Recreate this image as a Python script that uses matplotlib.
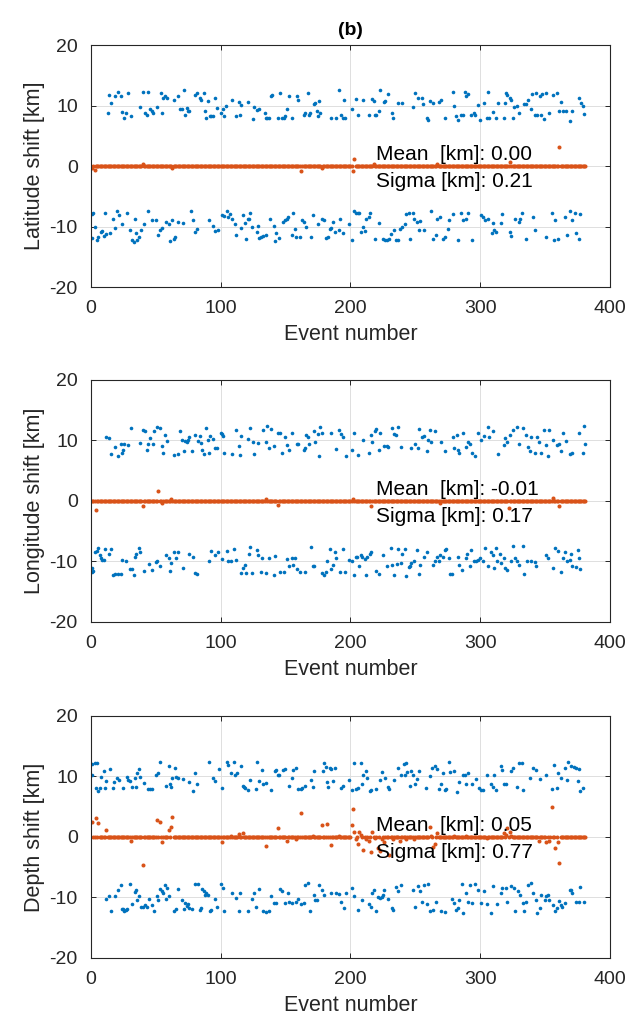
import numpy as np
import matplotlib.pyplot as plt

plt.rcParams['font.family'] = ['Liberation Sans', 'DejaVu Sans']
plt.rcParams['axes.unicode_minus'] = False

n_events = 381
blue = "#0072BD"
orange = "#D95319"

# initial (perturbed) shifts, (event, km)
lat_start = [
    (13, 8.8), (14, 11.7), (16, 10.4), (19, 11.6), (21, 12.3), (23, 11.6), (24, 8.9), (26, 7.9), (27, 8.7),
    (29, 12.0), (31, 8.2), (38, 9.7), (40, 12.2), (42, 8.7), (43, 8.4), (44, 12.2), (46, 9.5), (47, 9.1),
    (48, 8.8), (51, 9.8), (54, 12.0), (55, 8.8), (56, 11.2), (57, 11.5), (59, 11.2), (64, 10.9), (67, 11.6),
    (69, 9.5), (70, 9.5), (72, 12.5), (73, 8.5), (74, 9.6), (75, 9.1), (76, 9.1), (80, 11.7), (82, 12.0),
    (84, 11.2), (85, 10.9), (87, 12.1), (88, 9.1), (89, 8.0), (90, 10.7), (92, 8.2), (93, 8.2), (94, 8.3),
    (96, 11.3), (97, 9.6), (100, 8.7), (102, 9.5), (103, 8.2), (104, 9.9), (109, 10.9), (112, 8.2), (114, 10.6),
    (115, 8.4), (116, 10.1), (121, 10.6), (125, 7.7), (126, 9.8), (128, 9.3), (130, 9.5), (134, 8.7), (135, 7.9),
    (136, 7.9), (137, 7.9), (139, 11.5), (140, 11.7), (144, 7.9), (146, 12.0), (147, 8.0), (149, 8.0), (150, 8.2),
    (151, 9.4), (153, 11.5), (155, 8.0), (159, 11.5), (160, 10.9), (164, 8.4), (165, 8.7), (167, 12.1), (168, 8.4),
    (169, 8.8), (172, 10.2), (173, 10.5), (174, 9.1), (175, 8.2), (176, 10.8), (177, 8.8), (185, 7.9), (189, 7.9),
    (191, 12.6), (193, 8.4), (194, 7.9), (195, 10.9), (196, 8.0), (201, 9.5), (204, 11.0), (206, 8.4), (210, 10.9),
    (214, 8.5), (217, 11.0), (218, 10.8), (219, 8.4), (220, 8.5), (222, 9.1), (223, 12.6), (226, 10.6), (227, 10.8),
    (229, 11.9), (232, 8.7), (233, 8.0), (237, 10.4), (240, 10.4), (248, 9.7), (250, 12.1), (252, 11.2), (255, 11.2),
    (256, 10.2), (259, 8.0), (260, 7.6), (261, 10.7), (264, 10.5), (268, 10.6), (270, 10.9), (273, 7.9), (279, 12.2),
    (280, 10.0), (281, 8.3), (283, 7.6), (285, 8.4), (287, 8.4), (288, 12.3), (289, 11.6), (291, 11.9), (293, 8.4),
    (295, 8.8), (296, 8.4), (298, 10.1), (300, 7.6), (303, 10.5), (305, 7.9), (306, 12.3), (307, 8.0), (310, 9.0),
    (312, 7.9), (314, 10.5), (318, 7.9), (319, 10.5), (320, 12.1), (321, 11.7), (323, 11.2), (324, 10.9), (325, 7.9),
    (326, 9.8), (328, 9.9), (330, 8.7), (334, 10.2), (335, 10.2), (337, 10.9), (339, 9.5), (340, 11.9), (342, 8.4),
    (343, 12.1), (344, 8.4), (346, 11.6), (347, 8.4), (348, 11.9), (349, 7.7), (351, 12.0), (353, 8.7), (356, 11.7),
    (359, 12.0), (361, 9.1), (362, 10.6), (364, 9.1), (366, 9.1), (369, 7.5), (371, 9.1), (376, 11.2), (378, 10.5),
    (379, 9.9), (380, 8.6),
    (1, -7.9), (1, -11.9), (2, -7.7), (3, -10.0), (5, -12.3), (6, -11.7), (8, -10.9), (9, -10.7), (10, -11.6),
    (11, -7.7), (12, -11.2), (15, -11.0), (17, -8.7), (19, -10.2), (20, -7.5), (22, -8.1), (24, -9.6), (28, -7.7),
    (30, -10.6), (32, -12.2), (33, -12.5), (34, -8.8), (35, -11.0), (36, -12.2), (37, -11.7), (39, -10.6), (41, -9.5),
    (44, -7.5), (47, -8.9), (50, -8.9), (52, -11.4), (53, -10.6), (55, -10.3), (58, -9.3), (60, -9.6), (61, -12.4),
    (63, -8.9), (64, -12.1), (65, -11.8), (67, -9.2), (71, -9.4), (77, -7.5), (79, -9.0), (80, -10.9), (82, -10.4),
    (91, -8.9), (94, -9.9), (96, -10.7), (98, -10.6), (101, -8.1), (103, -8.3), (105, -7.5), (106, -8.5), (107, -7.9),
    (109, -8.8), (111, -9.6), (112, -11.4), (116, -10.2), (117, -8.1), (119, -9.4), (120, -12.1), (121, -8.7),
    (122, -8.8), (123, -7.8), (124, -10.0), (128, -10.9), (129, -9.9), (130, -11.9), (131, -11.8), (133, -11.5),
    (135, -11.4), (138, -8.8), (141, -9.9), (142, -12.4), (143, -11.1), (145, -11.9), (148, -9.2), (150, -8.9),
    (151, -8.7), (152, -8.5), (155, -11.4), (156, -7.7), (157, -10.4), (158, -11.7), (161, -11.8), (163, -8.9),
    (164, -9.3), (166, -10.0), (170, -11.7), (171, -8.1), (175, -9.5), (178, -8.8), (180, -8.9), (181, -11.9),
    (183, -11.7), (184, -10.4), (185, -10.2), (187, -9.3), (188, -10.9), (191, -10.5), (192, -8.8), (194, -11.1),
    (199, -9.6), (201, -12.3), (203, -7.5), (204, -7.8), (206, -7.7), (207, -7.8), (208, -10.9), (210, -10.0),
    (211, -10.7), (212, -8.7), (214, -8.4), (215, -7.8), (219, -12.1), (222, -9.4), (225, -12.0), (227, -12.2),
    (228, -12.3), (230, -12.1), (231, -11.2), (234, -10.6), (235, -12.2), (237, -12.2), (238, -10.4), (240, -10.1),
    (242, -9.6), (243, -7.9), (245, -7.8), (246, -12.1), (248, -7.8), (249, -8.7), (251, -9.2), (253, -10.6),
    (254, -9.1), (257, -10.5), (262, -7.5), (264, -12.1), (266, -11.4), (267, -8.8), (269, -8.5), (271, -12.0),
    (273, -11.8), (275, -10.4), (276, -9.0), (279, -7.9), (283, -12.2), (285, -7.8), (287, -9.0), (289, -8.7),
    (291, -7.8), (294, -12.3), (301, -8.1), (302, -8.5), (304, -8.9), (306, -8.8), (309, -11.1), (310, -9.4),
    (311, -10.5), (312, -10.9), (316, -9.4), (317, -7.9), (323, -10.9), (324, -11.6), (327, -8.7), (330, -9.2),
    (331, -8.7), (332, -7.7), (335, -12.0), (341, -8.5), (342, -10.6), (351, -11.7), (355, -7.7), (357, -12.2),
    (358, -8.9), (360, -12.0), (365, -8.5), (367, -11.4), (369, -7.5), (371, -9.0), (373, -7.7), (374, -11.1),
    (376, -12.0), (377, -8.0),
]

lon_start = [
    (12, 10.5), (14, 10.4), (16, 7.8), (19, 9.0), (21, 7.4), (23, 9.5), (24, 8.0), (25, 8.4), (26, 9.4), (29, 9.3),
    (31, 12.1), (38, 9.6), (40, 11.7), (42, 11.6), (43, 8.5), (44, 9.5), (46, 10.4), (48, 9.5), (49, 11.5),
    (51, 12.2), (53, 12.0), (55, 9.1), (56, 7.9), (57, 10.9), (59, 9.9), (64, 7.6), (67, 7.8), (69, 11.6),
    (70, 10.0), (72, 8.2), (73, 9.9), (74, 9.7), (75, 10.1), (76, 10.5), (78, 8.2), (80, 10.9), (83, 9.9),
    (84, 10.8), (85, 9.6), (86, 8.4), (87, 7.8), (89, 12.1), (90, 10.0), (91, 7.9), (92, 10.8), (94, 10.2),
    (96, 8.7), (97, 8.8), (100, 11.3), (101, 11.1), (102, 10.8), (103, 8.0), (109, 7.8), (112, 11.7), (114, 9.1),
    (115, 7.6), (116, 10.8), (121, 10.2), (123, 12.1), (125, 9.7), (126, 7.7), (129, 9.6), (133, 11.8), (135, 9.7),
    (136, 12.4), (137, 8.8), (139, 11.9), (141, 9.1), (144, 11.2), (146, 11.3), (147, 7.9), (150, 10.6), (151, 9.3),
    (153, 8.4), (155, 11.2), (159, 9.4), (160, 9.5), (164, 8.4), (165, 8.8), (166, 10.9), (167, 10.6), (168, 9.4),
    (172, 11.6), (173, 9.7), (175, 11.1), (176, 7.5), (177, 12.2), (178, 11.2), (185, 11.2), (189, 8.6),
    (191, 11.8), (193, 11.0), (194, 10.6), (197, 7.5), (201, 8.4), (203, 11.3), (206, 7.6), (210, 10.1), (214, 7.9),
    (216, 10.9), (217, 9.7), (219, 11.6), (220, 11.9), (222, 8.4), (223, 11.3), (226, 9.1), (228, 9.1), (229, 9.0),
    (232, 12.1), (234, 11.0), (235, 10.9), (237, 12.3), (239, 9.0), (247, 8.7), (250, 9.5), (252, 8.8), (253, 11.9),
    (255, 10.5), (257, 10.8), (259, 8.3), (260, 10.1), (261, 11.8), (262, 9.8), (265, 11.6), (270, 9.8), (273, 8.2),
    (279, 10.6), (280, 8.7), (282, 10.9), (283, 8.4), (284, 7.9), (287, 11.2), (289, 9.0), (291, 9.7), (292, 9.4),
    (294, 8.0), (296, 7.5), (298, 11.2), (301, 10.1), (303, 10.8), (306, 12.3), (307, 10.5), (310, 11.6), (314, 7.7),
    (318, 9.3), (319, 10.4), (321, 9.8), (323, 10.9), (325, 11.7), (328, 12.3), (330, 9.4), (333, 12.0), (335, 10.9),
    (337, 9.0), (338, 8.3), (339, 10.5), (342, 7.9), (344, 10.6), (345, 9.7), (347, 7.9), (349, 11.7), (351, 9.3),
    (352, 7.5), (353, 11.8), (356, 10.1), (359, 9.3), (361, 9.4), (362, 8.2), (364, 11.2), (366, 9.9), (369, 7.7),
    (371, 7.9), (376, 11.3), (379, 8.0), (380, 12.4), (381, 9.4),
    (1, -11.7), (1, -11.0), (2, -11.6), (3, -8.5), (5, -8.3), (6, -7.8), (7, -8.9), (8, -9.5), (9, -9.7),
    (10, -9.8), (11, -7.9), (14, -8.7), (16, -7.9), (17, -12.3), (19, -12.1), (21, -12.1), (23, -12.1), (24, -9.8),
    (27, -10.0), (30, -11.3), (32, -11.3), (33, -12.3), (34, -9.3), (35, -8.7), (37, -7.8), (38, -8.4), (41, -11.5),
    (45, -10.4), (47, -11.4), (50, -10.1), (51, -10.0), (53, -10.7), (58, -9.0), (60, -9.4), (61, -11.6),
    (62, -10.2), (64, -8.5), (66, -9.4), (67, -8.5), (71, -11.0), (76, -8.8), (79, -9.3), (80, -11.9), (82, -12.1),
    (91, -9.9), (93, -8.2), (96, -8.9), (98, -8.5), (101, -9.6), (105, -8.2), (106, -9.9), (108, -10.0),
    (110, -7.9), (112, -9.7), (116, -11.9), (117, -11.1), (119, -10.5), (120, -11.9), (122, -8.8), (123, -7.6),
    (124, -11.9), (128, -8.1), (129, -8.9), (131, -11.7), (132, -9.4), (135, -11.9), (137, -9.4), (141, -12.2),
    (142, -9.1), (146, -11.8), (149, -11.8), (151, -9.6), (153, -10.7), (155, -9.4), (156, -10.5), (157, -9.4),
    (159, -11.3), (161, -11.8), (165, -11.7), (170, -7.6), (171, -10.7), (172, -10.8), (178, -11.9), (180, -12.3),
    (181, -11.8), (182, -9.9), (184, -7.9), (185, -11.2), (187, -10.5), (188, -8.5), (189, -9.4), (192, -11.8),
    (194, -7.9), (196, -11.8), (199, -9.8), (201, -9.9), (203, -12.2), (204, -9.3), (205, -9.2), (207, -10.7),
    (208, -9.0), (209, -9.2), (211, -9.6), (212, -12.2), (213, -9.2), (215, -8.8), (216, -8.5), (220, -11.5),
    (222, -12.0), (225, -8.9), (228, -10.7), (231, -7.7), (232, -10.5), (234, -12.3), (236, -10.4), (237, -7.9),
    (239, -10.2), (240, -8.8), (242, -7.9), (243, -12.4), (245, -10.9), (246, -10.7), (247, -10.3), (249, -9.9),
    (251, -8.1), (253, -12.0), (254, -10.5), (257, -9.2), (259, -8.5), (264, -10.5), (265, -9.9), (267, -9.2),
    (268, -10.0), (269, -9.0), (271, -9.2), (273, -8.1), (274, -8.0), (276, -9.5), (277, -12.0), (278, -12.1),
    (283, -9.2), (284, -10.6), (286, -11.4), (289, -9.4), (290, -8.7), (292, -10.7), (293, -8.1), (295, -9.9),
    (297, -9.9), (298, -9.8), (300, -9.4), (302, -10.0), (304, -7.7), (306, -10.7), (308, -8.4), (310, -8.9),
    (311, -11.0), (312, -7.8), (313, -9.9), (315, -8.8), (316, -10.3), (318, -9.5), (319, -11.0), (321, -11.4),
    (324, -9.9), (325, -7.5), (327, -9.5), (328, -9.9), (330, -10.6), (333, -7.5), (334, -12.0), (336, -10.0),
    (339, -9.9), (342, -10.1), (343, -10.7), (351, -8.9), (352, -9.4), (356, -11.1), (358, -7.8), (360, -8.3),
    (362, -11.8), (364, -9.4), (365, -8.5), (367, -10.0), (369, -9.8), (370, -8.8), (371, -10.7), (374, -10.9),
    (375, -8.1), (376, -9.4), (377, -11.2),
]

dep_start = [
    (1, 12.0), (1, 10.2), (3, 12.3), (4, 8.1), (5, 12.2), (6, 7.6), (7, 8.1), (8, 9.9), (10, 10.9), (11, 8.1),
    (12, 9.2), (15, 11.3), (17, 8.1), (18, 9.1), (20, 9.7), (22, 9.4), (25, 8.1), (28, 9.9), (29, 9.4), (30, 9.2),
    (32, 8.2), (34, 9.7), (35, 8.3), (36, 10.5), (37, 11.3), (38, 9.9), (41, 9.0), (44, 8.0), (46, 8.0), (47, 8.0),
    (50, 10.3), (52, 10.5), (53, 12.4), (58, 8.4), (60, 11.7), (61, 8.7), (62, 8.3), (63, 9.8), (65, 11.4),
    (66, 9.9), (67, 9.7), (71, 9.5), (76, 9.1), (79, 7.6), (80, 10.5), (82, 8.7), (91, 12.4), (94, 9.8), (96, 9.3),
    (99, 11.2), (101, 8.1), (105, 12.4), (106, 11.9), (108, 10.5), (110, 12.4), (111, 10.3), (113, 10.6),
    (116, 11.7), (117, 8.5), (118, 8.3), (119, 8.1), (121, 7.7), (123, 9.4), (127, 8.0), (128, 12.4), (130, 9.2),
    (132, 11.0), (133, 8.8), (135, 9.0), (139, 7.8), (142, 10.9), (143, 11.0), (144, 10.2), (145, 10.2),
    (148, 11.0), (150, 11.2), (153, 8.4), (155, 9.8), (156, 11.0), (158, 11.4), (160, 8.0), (162, 8.0), (163, 8.1),
    (165, 8.5), (170, 9.4), (171, 8.2), (172, 10.9), (179, 10.9), (180, 12.3), (181, 11.5), (182, 9.1), (183, 8.3),
    (184, 11.4), (185, 11.3), (187, 9.3), (188, 11.4), (193, 8.1), (194, 8.5), (199, 9.4), (201, 7.7), (203, 12.2),
    (204, 8.0), (206, 8.1), (208, 12.3), (209, 8.7), (210, 10.2), (212, 10.9), (213, 9.7), (215, 7.6), (216, 7.8),
    (220, 8.0), (223, 9.4), (224, 10.7), (227, 9.8), (229, 8.3), (230, 8.0), (234, 9.4), (237, 11.4), (239, 10.2),
    (241, 12.0), (242, 10.3), (243, 12.2), (244, 10.7), (246, 8.5), (247, 10.9), (248, 10.2), (250, 8.8),
    (251, 9.5), (253, 10.9), (258, 8.1), (261, 10.1), (263, 11.4), (265, 11.8), (267, 11.2), (268, 8.0), (270, 8.7),
    (271, 10.5), (273, 7.8), (274, 8.0), (276, 12.4), (277, 10.7), (280, 10.9), (282, 7.4), (284, 9.1),
    (287, 10.2), (288, 10.3), (289, 8.7), (291, 10.5), (294, 8.8), (297, 9.6), (299, 8.1), (301, 7.7), (302, 7.8),
    (305, 10.3), (308, 8.7), (310, 8.3), (311, 10.3), (312, 7.8), (316, 11.8), (317, 11.0), (318, 8.8), (320, 8.7),
    (324, 10.9), (325, 11.4), (328, 8.3), (330, 12.2), (332, 12.3), (333, 7.7), (338, 9.8), (341, 11.4),
    (343, 11.0), (346, 9.6), (351, 10.3), (355, 8.0), (357, 11.9), (359, 8.1), (360, 10.5), (362, 9.8),
    (365, 11.4), (367, 9.4), (368, 12.4), (370, 11.8), (372, 11.6), (374, 11.4), (375, 9.2), (376, 11.3),
    (377, 7.6), (379, 8.1),
    (12, -10.3), (14, -9.8), (16, -12.2), (19, -9.8), (21, -8.7), (23, -8.0), (24, -11.9), (25, -11.9),
    (26, -12.2), (27, -12.0), (28, -11.9), (30, -7.7), (32, -11.0), (34, -9.1), (35, -8.7), (36, -10.4),
    (37, -9.8), (39, -11.5), (40, -11.6), (42, -11.2), (43, -11.6), (45, -10.2), (47, -11.2), (49, -12.3),
    (51, -9.7), (52, -10.4), (53, -8.6), (55, -9.0), (56, -9.2), (57, -8.0), (58, -10.3), (59, -8.5), (60, -9.8),
    (64, -12.2), (66, -11.9), (67, -8.6), (70, -10.4), (72, -11.9), (73, -10.9), (74, -11.4), (75, -11.1),
    (76, -11.8), (78, -11.9), (80, -7.7), (83, -7.7), (84, -12.0), (85, -11.8), (86, -8.6), (87, -9.0),
    (88, -9.6), (89, -9.2), (90, -9.6), (92, -12.2), (93, -12.0), (96, -10.3), (97, -11.5), (100, -7.8),
    (102, -8.5), (103, -12.2), (109, -9.3), (112, -10.1), (114, -12.2), (115, -9.3), (121, -12.2), (124, -10.2),
    (126, -9.2), (127, -11.5), (130, -8.6), (133, -12.2), (135, -12.4), (137, -12.2), (139, -9.8), (141, -10.9),
    (143, -10.9), (146, -8.6), (147, -8.9), (150, -10.9), (152, -9.2), (153, -10.7), (155, -10.9), (158, -10.8),
    (160, -10.3), (162, -11.0), (164, -10.9), (165, -7.9), (167, -7.6), (169, -12.2), (172, -9.6), (173, -10.4),
    (174, -10.5), (176, -7.9), (178, -8.7), (180, -9.6), (185, -9.3), (189, -9.3), (191, -9.4), (193, -10.7),
    (195, -11.7), (197, -9.2), (201, -8.5), (203, -9.8), (206, -12.0), (209, -10.4), (214, -11.0), (216, -11.5),
    (217, -9.2), (218, -8.7), (220, -12.2), (221, -9.9), (223, -10.1), (224, -9.9), (225, -9.6), (226, -8.7),
    (229, -10.3), (232, -11.8), (233, -12.0), (235, -8.2), (237, -9.0), (239, -7.9), (248, -8.7), (250, -11.5),
    (252, -8.1), (254, -9.0), (255, -10.7), (257, -7.9), (259, -11.0), (260, -7.7), (261, -12.2), (264, -12.0),
    (266, -10.8), (270, -12.3), (273, -12.4), (278, -10.3), (280, -10.9), (281, -12.0), (283, -11.8),
    (284, -10.4), (286, -7.7), (287, -12.5), (289, -9.2), (291, -10.7), (292, -7.9), (294, -10.9), (296, -7.7),
    (298, -8.7), (301, -10.9), (303, -9.0), (305, -11.0), (308, -12.5), (310, -8.1), (313, -11.0), (316, -9.2),
    (317, -8.5), (320, -8.5), (321, -10.7), (324, -8.1), (326, -8.5), (327, -12.3), (329, -9.0), (331, -9.6),
    (333, -10.9), (334, -12.3), (335, -10.7), (337, -7.9), (339, -7.6), (341, -9.3), (343, -10.4), (344, -12.6),
    (346, -11.8), (347, -9.6), (350, -10.4), (351, -9.8), (352, -9.6), (353, -10.4), (356, -11.2), (358, -12.3),
    (359, -11.8), (361, -10.6), (362, -11.2), (363, -11.5), (365, -10.9), (369, -8.8), (370, -8.8), (371, -9.2),
    (374, -10.7), (376, -10.8), (377, -8.3), (380, -10.8),
]

# relocated shifts: zero for every event except these (event, km)
lat_final = [(1, -0.4), (3, -0.7), (40, 0.3), (63, -0.4), (162, -0.8), (178, -0.3), (202, -0.9), (203, 1.2),
             (218, 0.4), (267, 0.3), (323, 0.7), (361, 3.1)]
lon_final = [(4, -1.5), (40, -0.8), (52, 1.7), (55, -0.4), (62, 0.3), (135, 0.3), (144, -0.6), (202, 0.3),
             (216, -0.8), (269, -0.4), (322, -1.2), (356, 0.5), (361, -0.8)]
dep_final = [(1, 2.5), (4, 3.1), (6, 2.3), (12, 1.1), (31, -0.6), (40, -4.7), (51, 2.8), (53, 2.5), (55, -0.9),
             (60, 1.2), (62, 1.7), (63, 3.3), (101, -0.8), (108, 0.2), (114, 0.5), (117, 0.7), (135, -1.5),
             (144, 1.5), (151, -0.7), (158, -0.4), (162, 3.9), (171, 0.2), (178, 1.9), (182, 2.2), (185, -1.3),
             (191, 0.1), (201, 1.9), (202, 4.7), (203, 0.8), (204, -0.4), (206, -1.1), (207, 0.8), (208, 0.4),
             (210, -2.1), (212, -0.4), (214, -0.6), (216, -2.5), (217, 0.8), (219, -0.2), (221, -1.8), (223, -2.4),
             (224, -0.4), (226, -0.9), (230, -2.9), (233, -0.4), (238, -0.7), (243, -0.4), (249, -0.3), (261, 1.7),
             (262, 0.1), (264, -1.7), (265, -1.1), (267, 0.7), (280, 0.1), (289, 0.2), (305, -0.2), (318, 0.7),
             (320, 0.4), (321, 1.5), (323, 0.9), (324, 0.1), (345, -0.7), (351, -0.9), (353, -0.7), (355, 4.9),
             (358, -1.8), (360, -0.9), (361, -4.3)]

labels = ["Latitude shift [km]", "Longitude shift [km]", "Depth shift [km]"]
means = ["0.00", "-0.01", "0.05"]
sigmas = ["0.21", "0.17", "0.77"]


def final_series(outliers):
    ev = np.arange(1, n_events + 1)
    val = np.zeros(n_events)
    for e, v in outliers:
        val[e - 1] = v
    return ev, val


fig = plt.figure(figsize=(6.29, 10.19), dpi=100)
left, width, height = 0.1442, 0.8256, 0.2375
bottoms = [0.7183, 0.3896, 0.0599]

panels = zip([lat_start, lon_start, dep_start], [lat_final, lon_final, dep_final], labels, means, sigmas, bottoms)
for i, (start, final, lab, mu, sig, b) in enumerate(panels):
    ax = fig.add_axes([left, b, width, height])
    ev0 = [p[0] for p in start]
    km0 = [p[1] for p in start]
    ax.plot(ev0, km0, 'o', color=blue, ms=2.6, mew=0)
    ev1, km1 = final_series(final)
    ax.plot(ev1, km1, 'o', color=orange, ms=2.9, mew=0)

    ax.set_xlim(0, 400)
    ax.set_ylim(-20, 20)
    ax.set_xticks([0, 100, 200, 300, 400])
    ax.set_yticks([-20, -10, 0, 10, 20])
    ax.grid(True, color="#dedede", lw=0.7)
    ax.set_axisbelow(True)
    ax.tick_params(direction='in', length=3.5, width=0.7, top=True, right=True,
                   labelsize=14, colors="#262626", pad=9.3)
    for s in ax.spines.values():
        s.set_linewidth(0.8)
        s.set_color("#262626")
    ax.set_xlabel("Event number", fontsize=15.5, color="#262626", labelpad=5)
    ax.set_ylabel(lab, fontsize=15.5, color="#262626", labelpad=3.5)

    ax.text(220, 1.0, f"Mean  [km]: {mu}", fontsize=15, va='baseline')
    ax.text(220, -3.4, f"Sigma [km]: {sig}", fontsize=15, va='baseline')

    if i == 0:
        ax.set_title("(b)", fontsize=14, fontweight='bold', pad=7.5)

fig.savefig("out.png", dpi=100)
